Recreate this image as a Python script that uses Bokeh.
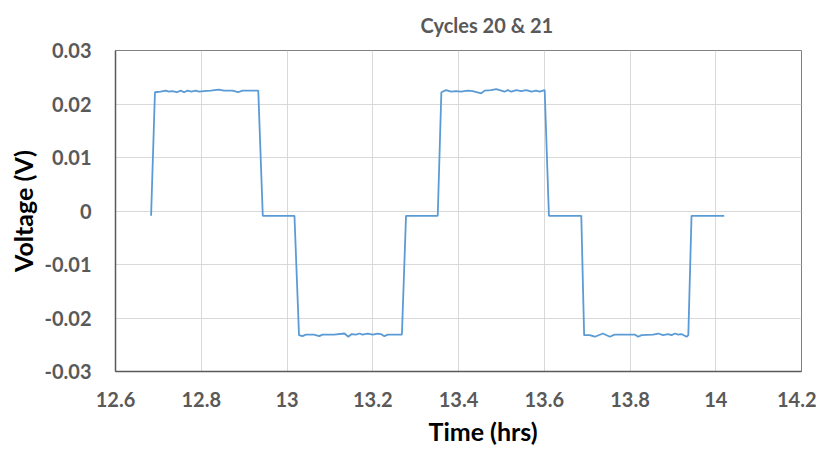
from bokeh.plotting import figure
from bokeh.models import FixedTicker, Range1d, Title
from bokeh.embed import file_html
from bokeh.resources import INLINE

# ---- data ----
time_hrs = [
    12.683, 12.692, 12.705, 12.717, 12.725, 12.732, 12.743, 12.752, 12.760, 12.768,
    12.777, 12.787, 12.795, 12.806, 12.822, 12.841, 12.853, 12.873, 12.886, 12.896,
    12.933, 12.9435, 13.0174,
    13.028, 13.036, 13.044, 13.063, 13.075, 13.083, 13.110, 13.134, 13.143, 13.151,
    13.161, 13.169, 13.176, 13.188, 13.200, 13.211, 13.219, 13.227, 13.235, 13.268,
    13.2776, 13.3516,
    13.360, 13.371, 13.383, 13.394, 13.406, 13.422, 13.433, 13.453, 13.461, 13.476,
    13.488, 13.500, 13.507, 13.515, 13.523, 13.535, 13.546, 13.558, 13.570, 13.581,
    13.589, 13.601,
    13.6109, 13.6864,
    13.693, 13.706, 13.718, 13.737, 13.753, 13.764, 13.811, 13.819, 13.827, 13.854,
    13.866, 13.877, 13.889, 13.897, 13.905, 13.912, 13.920, 13.932, 13.936,
    13.9435, 14.0198,
]
voltage_v = [
    -0.0009, 0.0222, 0.0223, 0.0225, 0.0223, 0.0224, 0.0222, 0.0225, 0.0222, 0.0225,
    0.0223, 0.0225, 0.0223, 0.0224, 0.0225, 0.0227, 0.0225, 0.0225, 0.0222, 0.0225,
    0.0225, -0.0009, -0.0009,
    -0.0232, -0.0234, -0.0231, -0.0231, -0.0234, -0.0231, -0.0231, -0.0229, -0.0235, -0.0230,
    -0.0231, -0.0229, -0.0231, -0.0229, -0.0231, -0.0229, -0.0230, -0.0234, -0.0231, -0.0231,
    -0.0009, -0.0009,
    0.0222, 0.0226, 0.0223, 0.0224, 0.0223, 0.0225, 0.0224, 0.0220, 0.0225, 0.0226,
    0.0228, 0.0225, 0.0223, 0.0226, 0.0223, 0.0226, 0.0224, 0.0226, 0.0223, 0.0225,
    0.0223, 0.0226,
    -0.0009, -0.0009,
    -0.0232, -0.0232, -0.0235, -0.0229, -0.0235, -0.0231, -0.0231, -0.0235, -0.0232, -0.0231,
    -0.0229, -0.0232, -0.0230, -0.0232, -0.0229, -0.0231, -0.0230, -0.0235, -0.0232,
    -0.0009, -0.0009,
]

x_ticks = [12.6, 12.8, 13.0, 13.2, 13.4, 13.6, 13.8, 14.0, 14.2]
x_tick_labels = ["12.6", "12.8", "13", "13.2", "13.4", "13.6", "13.8", "14", "14.2"]
y_ticks = [-0.03, -0.02, -0.01, 0.0, 0.01, 0.02, 0.03]
y_tick_labels = ["-0.03", "-0.02", "-0.01", "0", "0.01", "0.02", "0.03"]

title_text = "Cycles 20 & 21"
x_title = "Time (hrs)"
y_title = "Voltage (V)"

FONT = "Lato"
GRAY = "#595959"

p = figure(width=816, height=449, output_backend="svg", toolbar_location=None,
           x_range=Range1d(12.6, 14.2), y_range=Range1d(-0.03, 0.03),
           min_border_left=115, min_border_right=15, min_border_top=50,
           min_border_bottom=77)
p.background_fill_color = "white"
p.border_fill_color = "white"
p.outline_line_color = "#808080"
p.outline_line_width = 1

t = Title(text=title_text, align="left", offset=305, standoff=24,
          vertical_align="top", text_font=FONT,
          text_font_size="20px", text_font_style="bold", text_color=GRAY)
p.add_layout(t, "above")

p.line(time_hrs, voltage_v, line_color="#5B9BD5", line_width=1.8)

p.xaxis.ticker = FixedTicker(ticks=x_ticks)
p.yaxis.ticker = FixedTicker(ticks=y_ticks)
p.xaxis.major_label_overrides = dict(zip(x_ticks, x_tick_labels))
p.yaxis.major_label_overrides = dict(zip(y_ticks, y_tick_labels))

for ax in (p.xaxis[0], p.yaxis[0]):
    ax.major_tick_line_color = None
    ax.minor_tick_line_color = None
    ax.axis_line_color = "#5a5a5a"
    ax.axis_line_width = 1.5
    ax.major_label_text_font = FONT
    ax.major_label_text_font_size = "20px"
    ax.major_label_text_font_style = "bold"
    ax.major_label_text_color = GRAY

p.xaxis.major_label_standoff = 14
p.yaxis.major_label_standoff = 18

p.yaxis.axis_label = y_title
p.yaxis.axis_label_text_font = FONT
p.yaxis.axis_label_text_font_size = "25px"
p.yaxis.axis_label_text_font_style = "bold"
p.yaxis.axis_label_text_color = "black"
p.yaxis.axis_label_standoff = 3

xt = Title(text=x_title, align="left", offset=313, standoff=8, text_font=FONT,
           text_font_size="25px", text_font_style="bold", text_color="black")
p.add_layout(xt, "below")

p.grid.grid_line_color = "#d9d9d9"
p.grid.grid_line_width = 1

open("out.html", "w").write(file_html(p, INLINE))
